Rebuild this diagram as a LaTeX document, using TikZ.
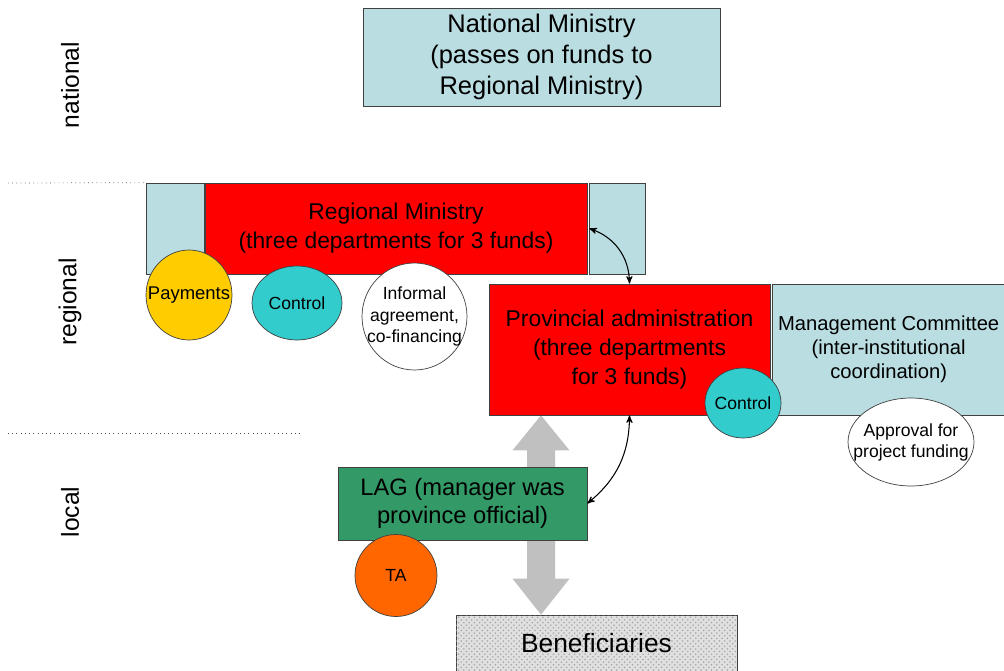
\documentclass[tikz,border=0pt]{standalone}
\usepackage{fontspec}
\setmainfont{Liberation Sans}
\usepackage{tikz}
\usetikzlibrary{shapes, calc, arrows, positioning, backgrounds, patterns}

\definecolor{paleblue}{RGB}{186,221,225}
\definecolor{boxred}{RGB}{255,0,0}
\definecolor{lagreen}{RGB}{51,153,102}
\definecolor{sunyellow}{RGB}{255,204,0}
\definecolor{teal}{RGB}{51,204,204}
\definecolor{taorange}{RGB}{255,102,0}
\definecolor{arrowgray}{RGB}{192,192,192}

\begin{document}
\begin{tikzpicture}[x=0.02cm,y=-0.02cm,>=stealth',semithick]
	\tikzset{box/.style={rectangle, draw=black!75, thin, align=center, inner sep=0pt, font=\fontsize{13}{16.5}\selectfont},
		bluebox/.style={box, fill=paleblue},
		redbox/.style={box, fill=boxred},
		bubble/.style={ellipse, draw=black!75, thin, inner sep=0pt},
		bubtext/.style={align=center, font=\fontsize{10}{12}\selectfont},
		level/.style={rotate=90, font=\fontsize{14}{16}\selectfont},
		divider/.style={dotted, black!70, thin},
		link/.style={<->, semithick, black}}
	\useasboundingbox (0,0) rectangle (1004,670);
	\node[level] (natlbl) at (70,85) {national};
	\node[level] (reglbl) at (70,302) {regional};
	\node[level] (loclbl) at (70,512) {local};
	\node[bluebox, minimum width=7.14cm, minimum height=1.96cm, font=\fontsize{14.5}{17.5}\selectfont] (natmin) at (541.5,57) {National Ministry\\(passes on funds to\\Regional Ministry)};
	\node[redbox, minimum width=7.64cm, minimum height=1.82cm] (regmin) at (396,228.5) {Regional Ministry\\(three departments for 3 funds)};
	\node[bluebox, minimum width=1.16cm, minimum height=1.82cm, left=0pt of regmin] (lwing) {};
	\node[bluebox, minimum width=1.12cm, minimum height=1.82cm, right=0.04cm of regmin] (rwing) {};
	\node[redbox, minimum width=5.62cm, minimum height=2.62cm] (prov) at (629.5,349.5) {Provincial administration\\(three departments\\for 3 funds)};
	\node[bluebox, minimum width=4.64cm, minimum height=2.62cm, right=0.04cm of prov, font=\fontsize{11.5}{13.7}\selectfont] (mgmt) {Management Committee\\(inter-institutional\\coordination)};
	\node[box, fill=lagreen, minimum width=4.98cm, minimum height=1.46cm, font=\fontsize{13.5}{16}\selectfont] (lag) at (462.5,503.5) {LAG (manager was\\province official)};
	\node[box, fill=black!12, postaction={pattern=crosshatch dots, pattern color=black!35}, minimum width=5.62cm, minimum height=1.12cm, font=\fontsize{15}{17}\selectfont] (benef) at (596.5,643) {Beneficiaries};
	\node[bubble, fill=sunyellow, minimum width=1.72cm, minimum height=1.8cm, label={[bubtext, font=\fontsize{10.5}{12}\selectfont]center:Payments}] (pay) at (189,295) {};
	\node[bubble, fill=teal, minimum width=1.8cm, minimum height=1.48cm, label={[bubtext]center:Control}] (regctrl) at (297,303) {};
	\node[bubble, fill=white, minimum width=2.1cm, minimum height=2.14cm, label={[bubtext]center:Informal\\agreement,\\co-financing}] (informal) at (414.5,316.5) {};
	\node[bubble, fill=teal, minimum width=1.52cm, minimum height=1.4cm, label={[bubtext]center:Control}] (provctrl) at (743,403) {};
	\node[bubble, fill=white, minimum width=2.52cm, minimum height=1.76cm, label={[bubtext]center:Approval for\\project funding}] (approval) at (911,442) {};
	\node[bubble, fill=taorange, minimum width=1.64cm, minimum height=1.64cm, label={[bubtext]center:TA}] (ta) at (396,575.5) {};
	\coordinate (divtop) at (8,183);
	\coordinate (divlow) at (8,433);
	\coordinate (divlowend) at (300,433);
	\coordinate (shaft) at (541,500);
	\draw[divider] (divtop) -- (lwing.north west);
	\draw[divider] (divlow) -- (divlowend);
	\begin{scope}[on background layer]
		\fill[arrowgray] (prov.south -| shaft) -- ++(28.5,35) -- ++(-14.5,0) -- ($(benef.north -| shaft)+(14,-36)$) -- ++(14.5,0) -- (benef.north -| shaft) -- ++(-28.5,-36) -- ++(14.5,0) -- ($(prov.south -| shaft)+(-14,35)$) -- ++(-14.5,0) -- cycle;
	\end{scope}
	\draw[link] (rwing.west) to[bend left=35] (prov.north);
	\draw[link] (prov.south) to[bend left=25] (lag.east);
\end{tikzpicture}
\end{document}
